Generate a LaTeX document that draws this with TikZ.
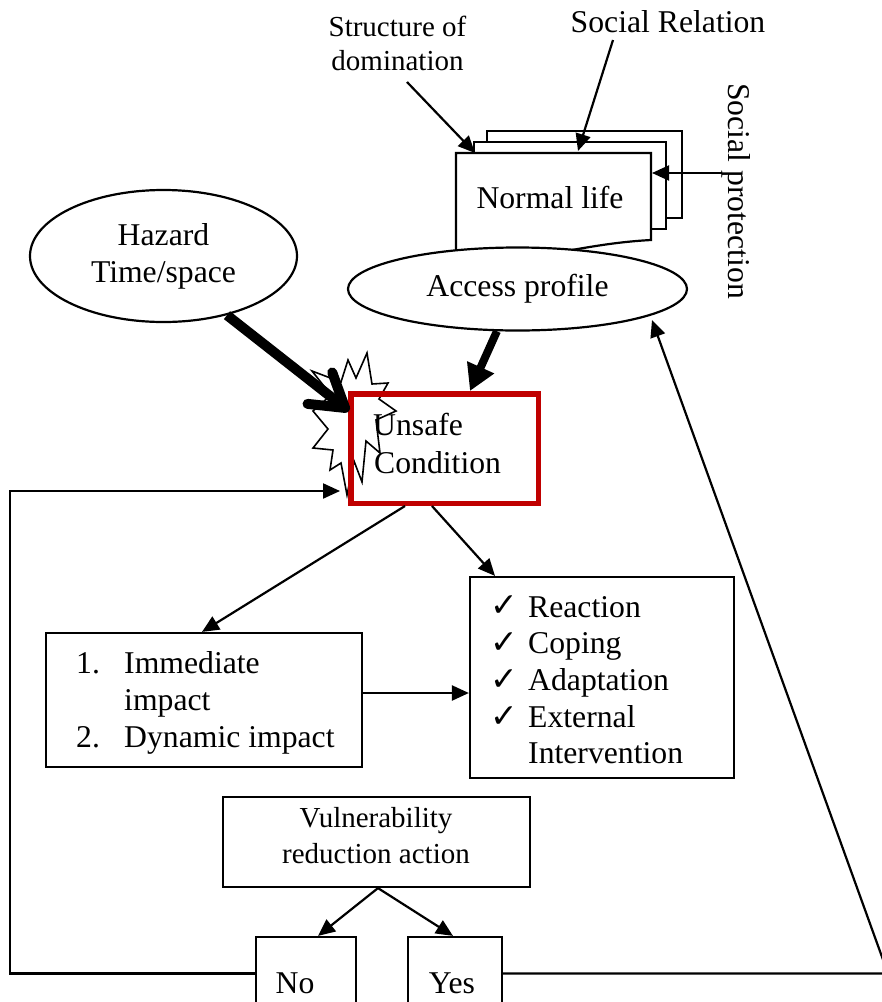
\documentclass[tikz,border=0pt]{standalone}
\usepackage{fontspec}
\setmainfont{Liberation Serif}
\newfontfamily\symfont{DejaVu Sans}
\usetikzlibrary{arrows.meta,shapes.geometric}
\definecolor{ucred}{HTML}{C00000}

\begin{document}
\begin{tikzpicture}[x=1pt,y=-1pt,
  every node/.style={font=\fontsize{31.7}{37}\selectfont, inner sep=0pt},
  small/.style={font=\fontsize{29}{33.5}\selectfont},
  vsmall/.style={font=\fontsize{29}{33}\selectfont},
  chk/.style={font=\symfont\fontsize{33}{33}\selectfont, anchor=base west},
  thin/.style={line width=2.2pt},
  box/.style={draw, line width=2.2pt},
  arr/.style={line width=2.2pt, -{Triangle[length=17pt,width=15pt]}},
]
\useasboundingbox (0,0) rectangle (882,1002);
\clip (0,0) rectangle (882,1002);

% stacked documents: "Normal life"
\draw[thin, fill=white] (487,131) rectangle (682,218);
\draw[thin, fill=white] (474,142) rectangle (666,229);
\draw[thin, fill=white] (456,153) -- (651,153) -- (651,240)
  .. controls (615,242) and (590,247) .. (560,252)
  .. controls (520,258) and (490,262) .. (456,262) -- cycle;
\node[anchor=base] (nl) at (550,208) {Normal life};

% ellipses
\node[ellipse, draw, thin, fill=white, minimum width=267pt, minimum height=132pt,
      align=center] (haz) at (163.5,256) {Hazard\\Time/space};
\node[ellipse, draw, thin, fill=white, minimum width=339pt, minimum height=83pt]
      (acc) at (517.5,289) {Access profile};

% labels around the documents
\node[small, align=center] (sd) at (397.5,43.6) {Structure of\\domination};
\node[anchor=base] (sr) at (668,32) {Social Relation};
\node[anchor=base west, rotate=-90] (sp) at (728,83) {Social protection};

\coordinate (sdS) at (407,82);
\coordinate (sdE) at (475,153);
\coordinate (srS) at (613,40);
\coordinate (srE) at (578,151);
\coordinate (spS) at (722,173);
\coordinate (spE) at (652,173);
\draw[arr] (sdS) -- (sdE);
\draw[arr] (srS) -- (srE);
\draw[arr] (spS) -- (spE);

% explosion behind the unsafe condition box
\draw[line width=1.6pt, fill=white, line join=miter]
  (367,353) -- (372,384) -- (388,383) -- (379,399) -- (396,411) -- (376,420)
  -- (380,453) -- (366,441) -- (362,482) -- (354,461) -- (347,495) -- (341,463)
  -- (330,470) -- (333,450) -- (313,448) -- (328,429) -- (313,411) -- (331,395)
  -- (312,371) -- (341,382) -- (348,360) -- (356,378) -- cycle;

% unsafe condition
\node[draw=ucred, line width=5.5pt, minimum width=187.5pt, minimum height=109.5pt]
  (uc) at (444.5,448.5) {};
\node[anchor=base west] (uc1) at (373,435) {Unsafe};
\node[anchor=base west] (uc2) at (374,473) {Condition};

% thick arrows into the unsafe condition
\coordinate (hzE) at (349,411);
\draw[line width=10pt, -{Straight Barb[length=32pt, width=40pt, round]}]
  (haz.-43) -- (hzE);
\draw[line width=8pt, -{Triangle[length=26pt, width=28pt]}]
  (acc.-116) -- ([xshift=25.5pt]uc.north);

% impact and response boxes
\node[box, minimum width=316pt, minimum height=134pt] (imp) at (204,700) {};
\node[anchor=base west] at (76,673) {1.};
\node[anchor=base west] at (124,673) {Immediate};
\node[anchor=base west] at (124,710) {impact};
\node[anchor=base west] at (76,747) {2.};
\node[anchor=base west] at (124,747) {Dynamic impact};

\node[box, minimum width=264pt, minimum height=201pt] (resp) at (602,677.5) {};
\node[chk] at (490,616) {✓};
\node[chk] at (490,653) {✓};
\node[chk] at (490,690) {✓};
\node[chk] at (490,727) {✓};
\node[anchor=base west] at (528,617) {Reaction};
\node[anchor=base west] at (528,653) {Coping};
\node[anchor=base west] at (528,690) {Adaptation};
\node[anchor=base west] at (528,727) {External};
\node[anchor=base west] at (528,763) {Intervention};

\draw[arr] ([xshift=-39.5pt]uc.south) -- ([xshift=-2pt]imp.north);
\draw[arr] ([xshift=-12.5pt]uc.south) -- ([xshift=-107pt]resp.north);
\draw[arr] ([yshift=7pt]imp.east) -- ([yshift=7pt]imp.east -| resp.west);

% vulnerability reduction decision
\node[box, minimum width=307pt, minimum height=90pt] (vr) at (376.5,842) {};
\node[vsmall, anchor=base] at (376,827) {Vulnerability};
\node[vsmall, anchor=base] at (376,863) {reduction action};

\node[box, minimum width=100pt, minimum height=73pt] (no) at (306,973.5) {};
\node[box, minimum width=94pt, minimum height=73pt] (yes) at (455,973.5) {};
\node[anchor=base] at (295,993) {No};
\node[anchor=base] at (452,993) {Yes};

\draw[arr] ([xshift=1.5pt]vr.south) -- ([xshift=12pt]no.north);
\draw[arr] ([xshift=1.5pt]vr.south) -- ([xshift=-2pt]yes.north);

% feedback loops
\coordinate (ucIn) at (340,491);
\coordinate (accIn) at (652,320);
\draw[arr] (no.west) -- (10,973.5) |- (ucIn);
\draw[arr] (yes.east) -- (888,973.5) -- (accIn);
\end{tikzpicture}
\end{document}
